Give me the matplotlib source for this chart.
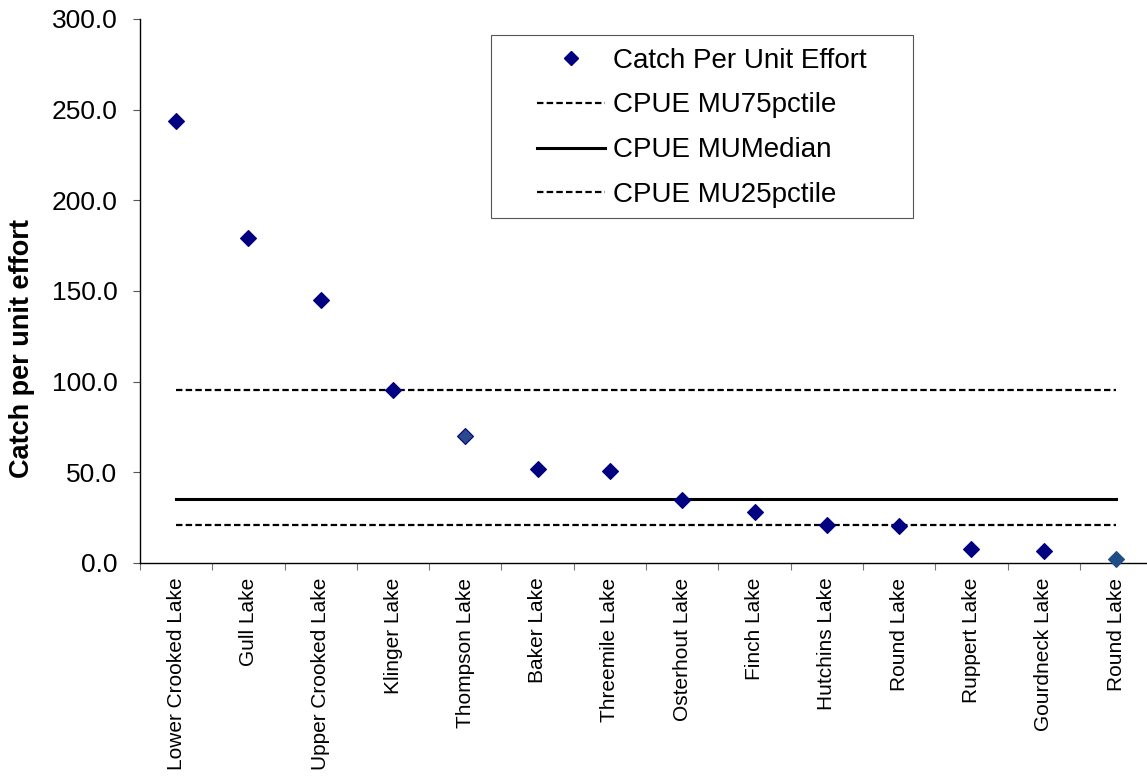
import matplotlib
matplotlib.use("Agg")
import matplotlib.pyplot as plt
from matplotlib.ticker import FixedLocator, FormatStrFormatter
from matplotlib.patches import Rectangle
import numpy as np

plt.rcParams['font.family'] = ['Liberation Sans', 'DejaVu Sans']

lakes = ["Lower Crooked Lake", "Gull Lake", "Upper Crooked Lake", "Klinger Lake",
         "Thompson Lake", "Baker Lake", "Threemile Lake", "Osterhout Lake",
         "Finch Lake", "Hutchins Lake", "Round Lake", "Ruppert Lake",
         "Gourdneck Lake", "Round Lake"]
cpue = [243.8, 179.5, 145.2, 95.3, 70.3, 51.9, 51.0, 35.0, 28.1, 20.9, 20.5, 7.9, 6.6, 2.0]
p75 = 95.4
median = 35.4
p25 = 20.8
yticks = [0, 50, 100, 150, 200, 250, 300]

W, H = 1147, 776
fig = plt.figure(figsize=(W / 100, H / 100), dpi=100)
left_px, top_px, bot_px = 140, 19, 563
cat_w = 72.3
n = len(lakes)
ax = fig.add_axes([left_px / W, (H - bot_px) / H, n * cat_w / W, (bot_px - top_px) / H])

x = np.arange(n)
navy = '#000080'
face = [navy] * n
face[4] = '#2a4a8c'
face[13] = '#1f4e86'
edge = [navy] * n
edge[13] = '#1f4e86'

dash = (0, (2.9, 1.45))
ax.plot([x[0], x[-1]], [p75, p75], color='black', lw=1.6, linestyle=dash,
        label='CPUE MU75pctile', zorder=2)
ax.plot([x[0], x[-1]], [median, median], color='black', lw=2.2, linestyle='-',
        label='CPUE MUMedian', zorder=2)
ax.plot([x[0], x[-1]], [p25, p25], color='black', lw=1.6, linestyle=dash,
        label='CPUE MU25pctile', zorder=2)

for i in range(n):
    ax.plot(x[i], cpue[i], marker='D', ms=8.0, mfc=face[i], mec=edge[i], mew=0.8,
            linestyle='none', zorder=3, clip_on=False)
pt_handle, = ax.plot([], [], marker='D', ms=7.2, mfc=navy, mec=navy, linestyle='none',
                     label='Catch Per Unit Effort')

ax.set_xlim(-0.5, n - 0.5)
ax.set_ylim(0, 300)

ax.yaxis.set_major_locator(FixedLocator(yticks))
ax.yaxis.set_major_formatter(FormatStrFormatter('%.1f'))
ax.tick_params(axis='y', direction='out', length=5.4, width=0.8, color='#555555',
               pad=10.8, labelsize=19)

ax.set_xticks(x)
ax.set_xticklabels(lakes, rotation=90, ha='center', va='top', fontsize=15)
ax.set_xticks(np.arange(n + 1) - 0.5, minor=True)
ax.tick_params(axis='x', which='major', length=0, pad=10.5)
ax.tick_params(axis='x', which='minor', direction='out', length=5, width=0.8, color='#777777')

for s in ['top', 'right']:
    ax.spines[s].set_visible(False)
ax.spines['left'].set_linewidth(1.0)
ax.spines['bottom'].set_linewidth(1.0)

ax.set_ylabel('Catch per unit effort', fontsize=19.5, fontweight='bold')
ax.yaxis.set_label_coords((35 - left_px) / (n * cat_w), (bot_px - 348) / (bot_px - top_px))

# legend frame drawn as a figure-level rectangle
frame = Rectangle((491 / W, (H - 218) / H), (913 - 491) / W, (218 - 35) / H,
                  transform=fig.transFigure, facecolor='white', edgecolor='#555555',
                  linewidth=0.8, zorder=4)
fig.patches.append(frame)

handles = [pt_handle] + ax.get_lines()[:3]
leg = fig.legend(handles=handles,
                 labels=['Catch Per Unit Effort', 'CPUE MU75pctile', 'CPUE MUMedian', 'CPUE MU25pctile'],
                 loc='upper left', bbox_to_anchor=(537 / W, (H - 47.5) / H),
                 bbox_transform=fig.transFigure, fontsize=20, frameon=False,
                 borderaxespad=0, borderpad=0,
                 handlelength=2.45, handletextpad=0.3, labelspacing=0.68, numpoints=1)
leg.set_zorder(5)

fig.savefig('out.png', dpi=100)
